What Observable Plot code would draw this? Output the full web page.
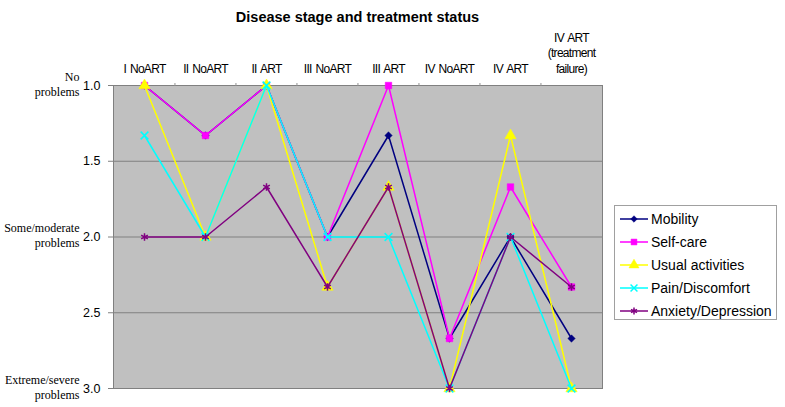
<!DOCTYPE html>
<html>
<head>
<meta charset="utf-8">
<script src="https://cdn.jsdelivr.net/npm/d3@7"></script>
<script src="https://cdn.jsdelivr.net/npm/@observablehq/plot@0.6"></script>
<style>
  html, body { margin: 0; padding: 0; background: #fff; }
  #wrap { position: relative; width: 785px; height: 407px; font-family: "Liberation Sans", Arial, sans-serif; }
  #title { width: 715px; height: 26px; box-sizing: border-box; padding-top: 8px; line-height: 18px; text-align: center; font-weight: bold; font-size: 14.5px; color: #000; }
  #legend { position: absolute; left: 614px; top: 205px; width: 163px; height: 115px; box-sizing: border-box; border: 1px solid #a0a0a0; background: #fff; padding-top: 1px; }
  .item { height: 23px; display: flex; align-items: center; font-size: 14px; color: #000; white-space: nowrap; }
  .item svg { margin-left: 5px; margin-right: 3px; flex: none; }
  .cat-axis text { letter-spacing: -0.7px; word-spacing: 1.2px; }
</style>
</head>
<body>
<div id="wrap">
  <div id="title">Disease stage and treatment status</div>
  <div id="chart"></div>
  <div id="legend"></div>
</div>
<script>
const categories = ["I NoART", "II NoART", "II ART", "III NoART", "III ART", "IV NoART", "IV ART", "IV ART (treatment failure)"];
const categoryLabels = ["I NoART", "II NoART", "II ART", "III NoART", "III ART", "IV NoART", "IV ART", "IV ART\n(treatment\nfailure)"];
const seriesNames = ["Mobility", "Self-care", "Usual activities", "Pain/Discomfort", "Anxiety/Depression"];
const mobility  = [1.0, 1.33, 1.0, 2.0, 1.33, 2.67, 2.0, 2.67];
const selfCare  = [1.0, 1.33, 1.0, 2.0, 1.0, 2.67, 1.67, 2.33];
const usual     = [1.0, 2.0, 1.0, 2.33, 1.67, 3.0, 1.33, 3.0];
const pain      = [1.33, 2.0, 1.0, 2.0, 2.0, 3.0, 2.0, 3.0];
const anxiety   = [2.0, 2.0, 1.67, 2.33, 1.67, 3.0, 2.0, 2.33];
const yTicks = [1.0, 1.5, 2.0, 2.5, 3.0];
const levelValues = [1, 2, 3];
const levelLabels = ["No\nproblems", "Some/moderate\nproblems", "Extreme/severe\nproblems"];

const seriesValues = [mobility, selfCare, usual, pain, anxiety];
const colors = ["#000080", "#ff00ff", "#ffff00", "#00ffff", "#800080"];
const symbols = ["diamond2", "square", "triangle", "times", "asterisk"];
const filled = [true, true, true, false, false];
const radii = [3.3, 3.7, 4.2, 3.6, 3.6];

const data = [];
seriesNames.forEach((s, i) => seriesValues[i].forEach((v, j) => data.push({series: s, category: categories[j], value: v})));

const width = 785, height = 381;
const marginLeft = 113, marginRight = 183, marginTop = 59, marginBottom = 19;
const step = (width - marginLeft - marginRight) / categories.length;

const marks = [
  Plot.frame({fill: "#c0c0c0", stroke: "#808080"}),
  Plot.gridY([1.5, 2.0, 2.5], {stroke: "#808080", strokeOpacity: 1}),
  Plot.frame({fill: "none", stroke: "#808080"}),
  Plot.axisY({ticks: yTicks, tickFormat: d3.format(".1f"), tickSize: 5, tickPadding: 8, label: null, stroke: "#808080", fontSize: 12.5}),
  Plot.text(levelValues, {y: d => d, text: (d, i) => levelLabels[i], frameAnchor: "left", dx: -34, dy: -2, textAnchor: "end", lineHeight: 1.25, fontFamily: "Liberation Serif, Times New Roman, serif", fontSize: 12}),
  Plot.axisX({anchor: "top", ticks: categories, tickSize: 0, tickPadding: 13, tickFormat: d => categoryLabels[categories.indexOf(d)], lineHeight: 1.28, label: null, fontSize: 12, className: "cat-axis"}),
  Plot.axisX({anchor: "top", ticks: categories.slice(1), tickSize: 3, tickFormat: () => "", dx: -step / 2, stroke: "#909090", label: null})
];
seriesNames.forEach((s, i) => {
  const rows = data.filter(d => d.series === s);
  marks.push(Plot.line(rows, {x: "category", y: "value", stroke: colors[i], strokeWidth: 1.5}));
  marks.push(Plot.dot(rows, {x: "category", y: "value", symbol: symbols[i], r: radii[i], fill: filled[i] ? colors[i] : "none", stroke: colors[i], strokeWidth: filled[i] ? 0.5 : 1.5}));
});

const chart = Plot.plot({
  width, height, marginLeft, marginRight, marginTop, marginBottom,
  style: {fontFamily: "Liberation Sans, Arial, sans-serif", fontSize: "12px", background: "#fff", overflow: "visible"},
  x: {type: "point", domain: categories, padding: 0.5},
  y: {domain: [3, 1]},
  marks
});
document.getElementById("chart").appendChild(chart);

const symMap = {diamond2: d3.symbolDiamond2, square: d3.symbolSquare, triangle: d3.symbolTriangle, times: d3.symbolTimes, asterisk: d3.symbolAsterisk};
const legend = d3.select("#legend");
seriesNames.forEach((s, i) => {
  const item = legend.append("div").attr("class", "item");
  const svg = item.append("svg").attr("width", 28).attr("height", 12);
  svg.append("line").attr("x1", 0).attr("x2", 28).attr("y1", 6).attr("y2", 6).attr("stroke", colors[i]).attr("stroke-width", 1.5);
  svg.append("path").attr("transform", "translate(14,6)")
    .attr("d", d3.symbol(symMap[symbols[i]], Math.PI * radii[i] * radii[i] * 0.8)())
    .attr("fill", filled[i] ? colors[i] : "none").attr("stroke", colors[i]).attr("stroke-width", filled[i] ? 0.5 : 1.5);
  item.append("span").text(s);
});
</script>
</body>
</html>
